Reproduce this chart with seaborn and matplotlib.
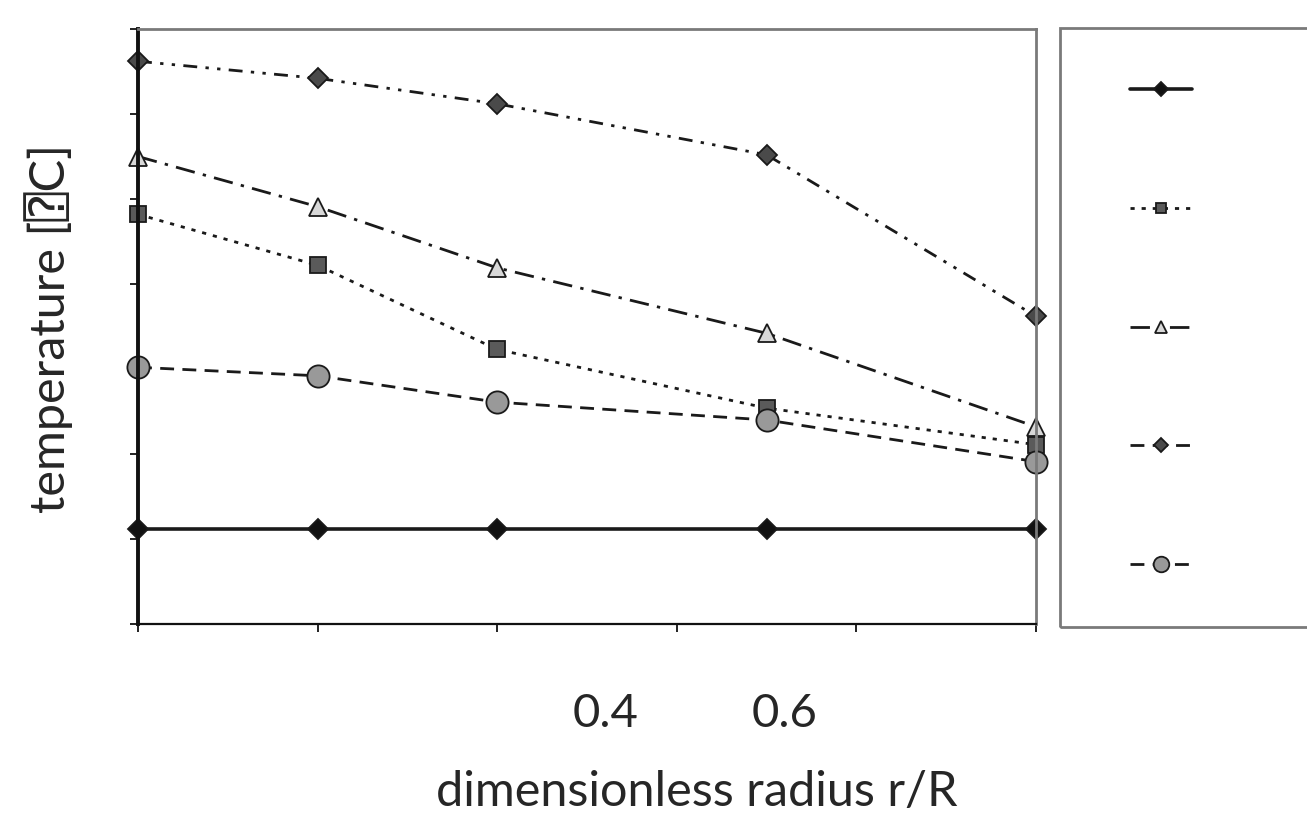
import numpy as np
import pandas as pd
import matplotlib
matplotlib.use('Agg')
import matplotlib.pyplot as plt
import matplotlib.transforms as mtransforms
from matplotlib.patches import Rectangle
import seaborn as sns

# dimensionless radius positions of the measurements
radius = [0.0, 0.2, 0.4, 0.7, 1.0]

# temperatures (arbitrary scale, no tick labels shown)
temp_solid = [31.2, 31.2, 31.2, 31.2, 31.2]
temp_square = [68.2, 62.2, 52.3, 45.4, 41.1]
temp_triangle = [75.0, 69.1, 61.9, 54.2, 43.2]
temp_diamond = [86.2, 84.2, 81.2, 75.2, 56.2]
temp_circle = [50.2, 49.2, 46.1, 44.0, 39.1]

x_ticks = [0.0, 0.2, 0.4, 0.6, 0.8, 1.0]
x_ticklabels = ['', '', '0.4', '0.6', '', '']
y_ticks = [20, 30, 40, 50, 60, 70, 80, 90]

sns.set_style('white')
plt.rcParams['font.family'] = ['Lato', 'DejaVu Sans Mono', 'DejaVu Sans']

fig = plt.figure(figsize=(13.07, 8.15), dpi=100)
ax = fig.add_axes([138 / 1307, 1 - 624 / 815, 898 / 1307, 595 / 815])

series = [
    (temp_solid, 'D', '#111111', '-', 2.6, 10),
    (temp_square, 's', '#5a5a5a', (0, (1.5, 2.5)), 2.0, 11),
    (temp_triangle, '^', '#d8d8d8', (0, (7, 3, 1.2, 3)), 2.0, 13),
    (temp_diamond, 'D', '#4a4a4a', (0, (5, 3, 1.2, 3, 1.2, 3)), 2.0, 10),
    (temp_circle, 'o', '#999999', (0, (5, 3)), 2.0, 16),
]

handles = []
for vals, mk, fc, ls, lw, ms in series:
    df = pd.DataFrame({'r': radius, 'T': vals})
    sns.lineplot(data=df, x='r', y='T', ax=ax, color='#1a1a1a', linestyle=ls,
                 linewidth=lw, marker=mk, markersize=ms, markerfacecolor=fc,
                 markeredgecolor='#1a1a1a', markeredgewidth=1.3, clip_on=False)
    handles.append(ax.lines[-1])

ax.set_xlim(0, 1)
ax.set_ylim(20, 90)
ax.set_xticks(x_ticks)
ax.set_xticklabels(x_ticklabels, fontsize=34)
ax.set_yticks(y_ticks)
ax.set_yticklabels([])
ax.tick_params(axis='both', direction='out', length=6, width=1.3, color='#111111',
               left=True, bottom=True)
ax.tick_params(axis='x', pad=44)

# the tick labels sit shifted to the right in the original
shift = mtransforms.ScaledTranslation(1.08, 0, fig.dpi_scale_trans)
for lbl in ax.get_xticklabels():
    lbl.set_transform(lbl.get_transform() + shift)

for side in ['top', 'right']:
    ax.spines[side].set_color('#7a7a7a')
    ax.spines[side].set_linewidth(2.0)
ax.spines['left'].set_color('#111111')
ax.spines['left'].set_linewidth(2.8)
ax.spines['bottom'].set_color('#111111')
ax.spines['bottom'].set_linewidth(1.6)

ax.set_xlabel('dimensionless radius r/R', fontsize=35)
ax.set_ylabel('temperature [⍰C]', fontsize=35)
ax.xaxis.set_label_coords((697 - 138) / 898, -0.245)
ax.yaxis.set_label_coords(-0.072, 0.496)

# legend frame that runs off the right edge
fig.patches.append(Rectangle((1060 / 1307, 1 - 627 / 815), 300 / 1307, 599 / 815,
                             transform=fig.transFigure, fill=False,
                             edgecolor='#7a7a7a', linewidth=2.0))
fig.legend(handles, [' '] * 5, loc='upper left',
           bbox_to_anchor=(1130 / 1307, 1 - 82 / 815), frameon=False,
           fontsize=14, handlelength=3.2, borderpad=0, borderaxespad=0,
           labelspacing=5.23, markerscale=0.7)

fig.savefig('out.png', dpi=100)
